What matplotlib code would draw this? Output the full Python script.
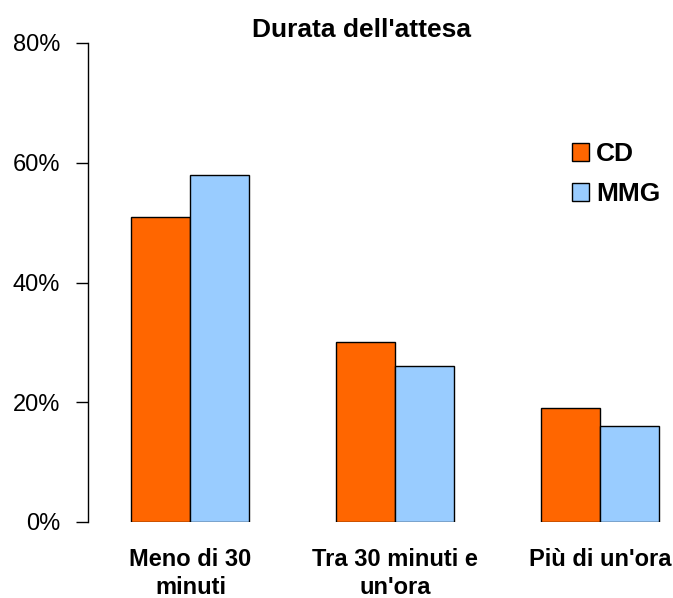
import matplotlib.pyplot as plt
import numpy as np

categories = ["Meno di 30\nminuti", "Tra 30 minuti e\nun'ora", "Più di un'ora"]
cd = [51, 30, 19]
mmg = [58, 26, 16]
series_names = ["CD", "MMG"]

plt.rcParams['font.family'] = ['Liberation Sans', 'DejaVu Sans']

fig = plt.figure(figsize=(6.73, 5.98), dpi=100)
ax = fig.add_axes([88/673, 1-522/598, 1-88/673, (522-43)/598])

x = np.arange(len(categories))
w = 0.288
ax.bar(x - w/2, cd, w, color='#FF6600', edgecolor='black', linewidth=1, label=series_names[0])
ax.bar(x + w/2, mmg, w, color='#99CCFF', edgecolor='black', linewidth=1, label=series_names[1])

ax.set_xlim(-0.5, (673-190)/205)
ax.set_ylim(0, 80)
ax.set_yticks([0, 20, 40, 60, 80])
ax.set_yticklabels(['%d%%' % v for v in [0, 20, 40, 60, 80]], fontsize=17)
ax.tick_params(axis='y', direction='out', length=9, width=1, pad=11)
ax.set_xticks(x)
ax.set_xticklabels(categories, fontsize=17, fontweight='bold', linespacing=1.25)
ax.tick_params(axis='x', length=0, pad=19)

for s in ['top', 'right', 'bottom']:
    ax.spines[s].set_visible(False)
ax.spines['left'].set_linewidth(1)

fig.text(362/673, 1-37/598, "Durata dell'attesa", ha='center', va='baseline',
         fontsize=19, fontweight='bold')

leg = ax.legend(loc='upper left', bbox_to_anchor=(572/673, 1-142/598),
                bbox_transform=fig.transFigure, frameon=False,
                borderpad=0, borderaxespad=0,
                handlelength=0.65, handleheight=0.65, handletextpad=0.25,
                labelspacing=0.62, prop={'weight': 'bold', 'size': 19})

fig.savefig('out.png', dpi=100)
